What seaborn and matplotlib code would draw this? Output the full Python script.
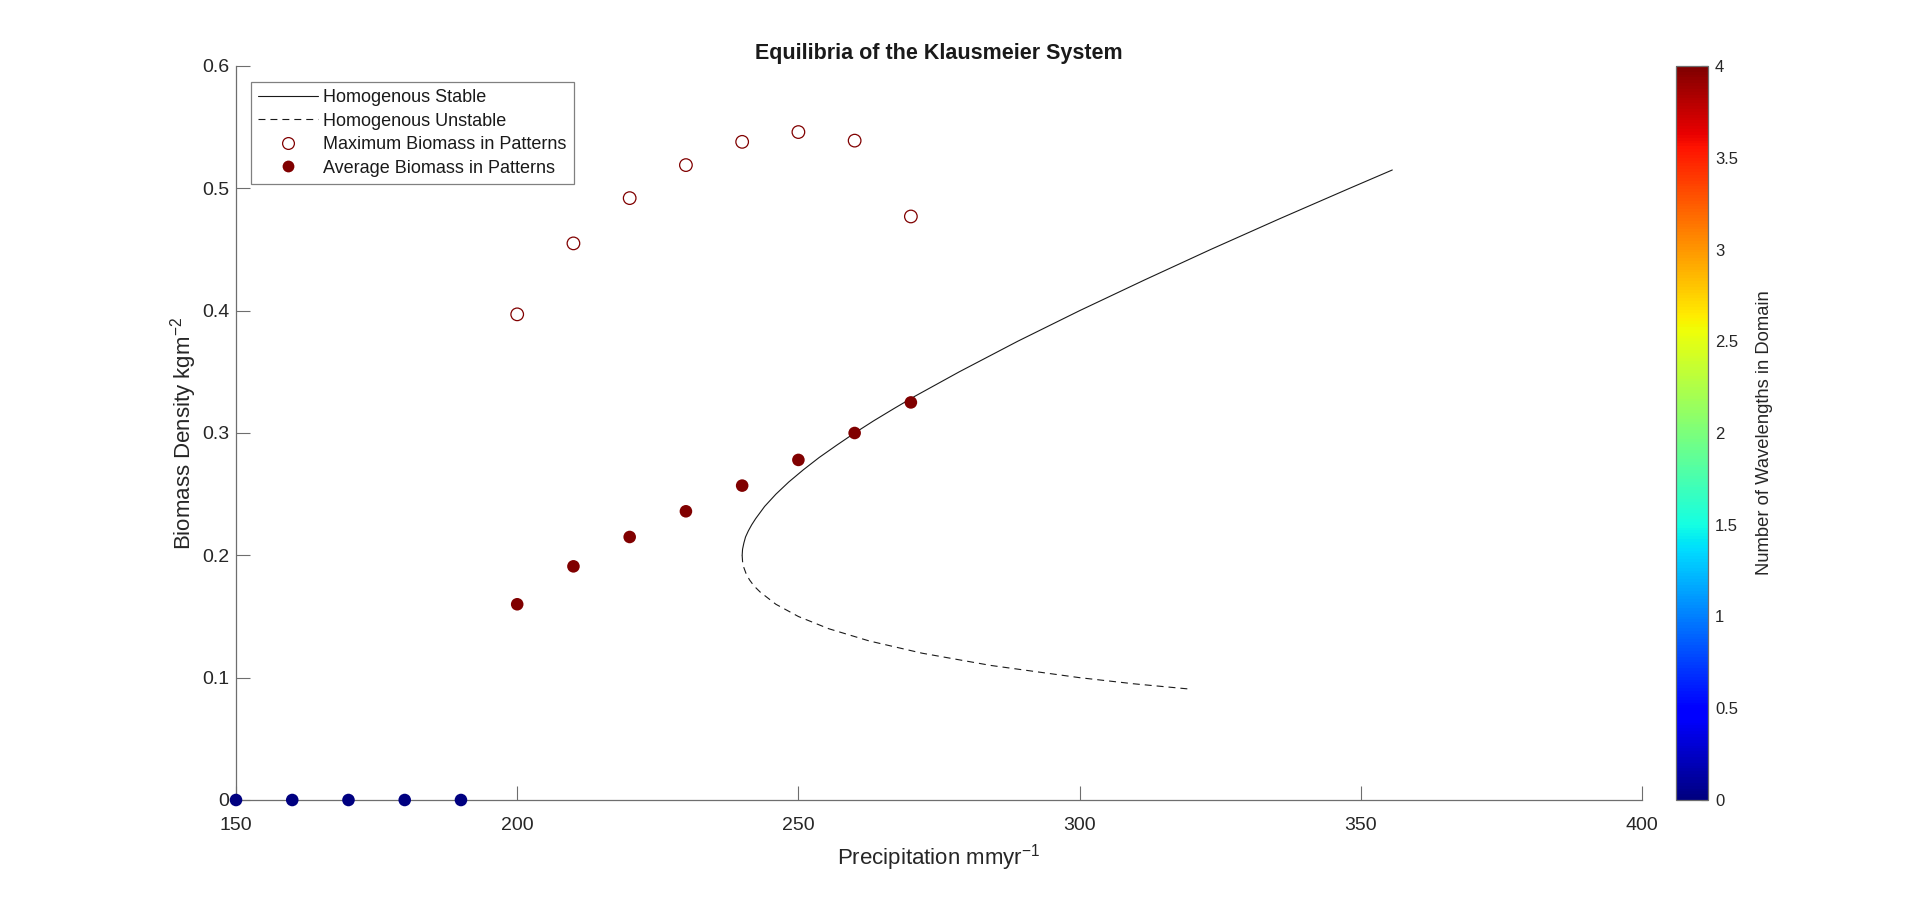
import numpy as np
import matplotlib
matplotlib.use('Agg')
import matplotlib.pyplot as plt
import seaborn as sns
from matplotlib.lines import Line2D
from matplotlib.ticker import FormatStrFormatter

## values
# homogeneous equilibrium, stable branch (precipitation, biomass)
stable_precip = [240.0, 240.07, 240.3, 240.6, 241.1, 241.7, 242.4, 244.0, 246.0, 248.3,
                 250.9, 253.7, 256.8, 260.0, 263.4, 267.0, 270.7, 278.6, 289.0, 300.0,
                 311.5, 323.3, 335.5, 348.0, 355.6]
stable_biomass = [0.200, 0.205, 0.210, 0.215, 0.220, 0.225, 0.230, 0.240, 0.250, 0.260,
                  0.270, 0.280, 0.290, 0.300, 0.310, 0.320, 0.330, 0.350, 0.375, 0.400,
                  0.425, 0.450, 0.475, 0.500, 0.515]
# homogeneous equilibrium, unstable branch
unstable_precip = [240.0, 240.07, 240.3, 240.7, 241.3, 242.1, 243.2, 246.0, 250.0, 255.4,
                   262.6, 272.0, 284.2, 300.0, 309.6, 320.0]
unstable_biomass = [0.200, 0.195, 0.190, 0.185, 0.180, 0.175, 0.170, 0.160, 0.150, 0.140,
                    0.130, 0.120, 0.110, 0.100, 0.095, 0.0905]

# pattern simulations
pattern_precip = [200, 210, 220, 230, 240, 250, 260, 270]
max_biomass = [0.397, 0.455, 0.492, 0.519, 0.538, 0.546, 0.539, 0.477]
avg_biomass = [0.160, 0.191, 0.215, 0.236, 0.257, 0.278, 0.300, 0.325]
pattern_waves = [4, 4, 4, 4, 4, 4, 4, 4]

# bare desert runs
bare_precip = [150, 160, 170, 180, 190]
bare_biomass = [0, 0, 0, 0, 0]
bare_waves = [0, 0, 0, 0, 0]

x_ticks = [150, 200, 250, 300, 350, 400]
y_ticks = [0, 0.1, 0.2, 0.3, 0.4, 0.5, 0.6]
cbar_ticks = [0, 0.5, 1, 1.5, 2, 2.5, 3, 3.5, 4]
cbar_labels = ['0', '0.5', '1', '1.5', '2', '2.5', '3', '3.5', '4']

sns.set_theme(style='white')
plt.rcParams['font.family'] = ['Liberation Sans', 'DejaVu Sans']
plt.rcParams['mathtext.default'] = 'regular'
plt.rcParams['lines.scale_dashes'] = False

txt = '#262626'
axcol = '#6e6e6e'
cmap = matplotlib.colormaps['jet']
norm = matplotlib.colors.Normalize(vmin=0, vmax=4)

fig = plt.figure(figsize=(19.2, 8.99), dpi=100)
ax = fig.add_axes([236 / 1920, 1 - 800 / 899, 1406 / 1920, 734 / 899])
cax = fig.add_axes([1676 / 1920, 1 - 800 / 899, 32 / 1920, 734 / 899])

sns.lineplot(x=stable_precip, y=stable_biomass, sort=False, estimator=None,
             color='k', linewidth=0.8, ax=ax)
sns.lineplot(x=unstable_precip, y=unstable_biomass, sort=False, estimator=None,
             color='k', linewidth=0.8, linestyle=(0, (5, 3.6)), ax=ax)

sns.scatterplot(x=pattern_precip, y=max_biomass, marker='o', s=82,
                color=cmap(norm(4)), facecolor='none', edgecolor=cmap(norm(4)),
                linewidth=0.9, zorder=3, ax=ax, legend=False)
sns.scatterplot(x=pattern_precip, y=avg_biomass, hue=pattern_waves, palette=cmap,
                hue_norm=(0, 4), marker='o', s=82, linewidth=0, zorder=3,
                ax=ax, legend=False)
sns.scatterplot(x=bare_precip, y=bare_biomass, hue=bare_waves, palette=cmap,
                hue_norm=(0, 4), marker='o', s=82, linewidth=0, zorder=3,
                clip_on=False, ax=ax, legend=False)

ax.set_xlim(150, 400)
ax.set_ylim(0, 0.6)
ax.set_xticks(x_ticks)
ax.set_yticks(y_ticks)
ax.xaxis.set_major_formatter(FormatStrFormatter('%g'))
ax.yaxis.set_major_formatter(FormatStrFormatter('%g'))
ax.tick_params(direction='in', length=10, width=0.8, color=axcol,
               labelsize=14, labelcolor=txt, bottom=True, left=True)
ax.tick_params(axis='x', pad=12)
ax.tick_params(axis='y', pad=5)
sns.despine(ax=ax)
for s in ['left', 'bottom']:
    ax.spines[s].set_color(axcol)
    ax.spines[s].set_linewidth(0.9)

ax.set_xlabel('Precipitation mmyr$^{-1}$', fontsize=16, color=txt, labelpad=6)
ax.set_ylabel('Biomass Density kgm$^{-2}$', fontsize=16, color=txt, labelpad=2)
ax.set_title('Equilibria of the Klausmeier System', fontsize=15.5,
             fontweight='bold', color='k', pad=5)

handles = [
    Line2D([], [], color='k', linewidth=0.8),
    Line2D([], [], color='k', linewidth=0.8, linestyle=(0, (5, 3.6))),
    Line2D([], [], color=cmap(norm(4)), marker='o', markersize=8.5,
           markerfacecolor='none', markeredgewidth=0.9, linestyle='none'),
    Line2D([], [], color=cmap(norm(4)), marker='o', markersize=8.5,
           markeredgewidth=0, linestyle='none'),
]
labels = ['Homogenous Stable', 'Homogenous Unstable',
          'Maximum Biomass in Patterns', 'Average Biomass in Patterns']
leg = ax.legend(handles, labels, loc='upper left', bbox_to_anchor=(15 / 1406, 1 - 16 / 734),
                borderaxespad=0, fontsize=13, frameon=True, fancybox=False,
                framealpha=1, edgecolor='#808080', handlelength=3.3,
                handletextpad=0.3, labelspacing=0.36, borderpad=0.4)
leg.get_frame().set_linewidth(0.9)
for t in leg.get_texts():
    t.set_color('k')

sm = matplotlib.cm.ScalarMappable(norm=norm, cmap=cmap)
cb = fig.colorbar(sm, cax=cax, ticks=cbar_ticks)
cb.ax.set_yticklabels(cbar_labels)
cb.ax.tick_params(direction='in', length=5, width=0.8, color=txt, right=True,
                  labelsize=12, labelcolor=txt, pad=5)
cb.outline.set_edgecolor(axcol)
cb.outline.set_linewidth(0.9)
cb.set_label('Number of Wavelengths in Domain', fontsize=13.2, color=txt, labelpad=13)

fig.savefig('out.png', dpi=100, facecolor='white')
